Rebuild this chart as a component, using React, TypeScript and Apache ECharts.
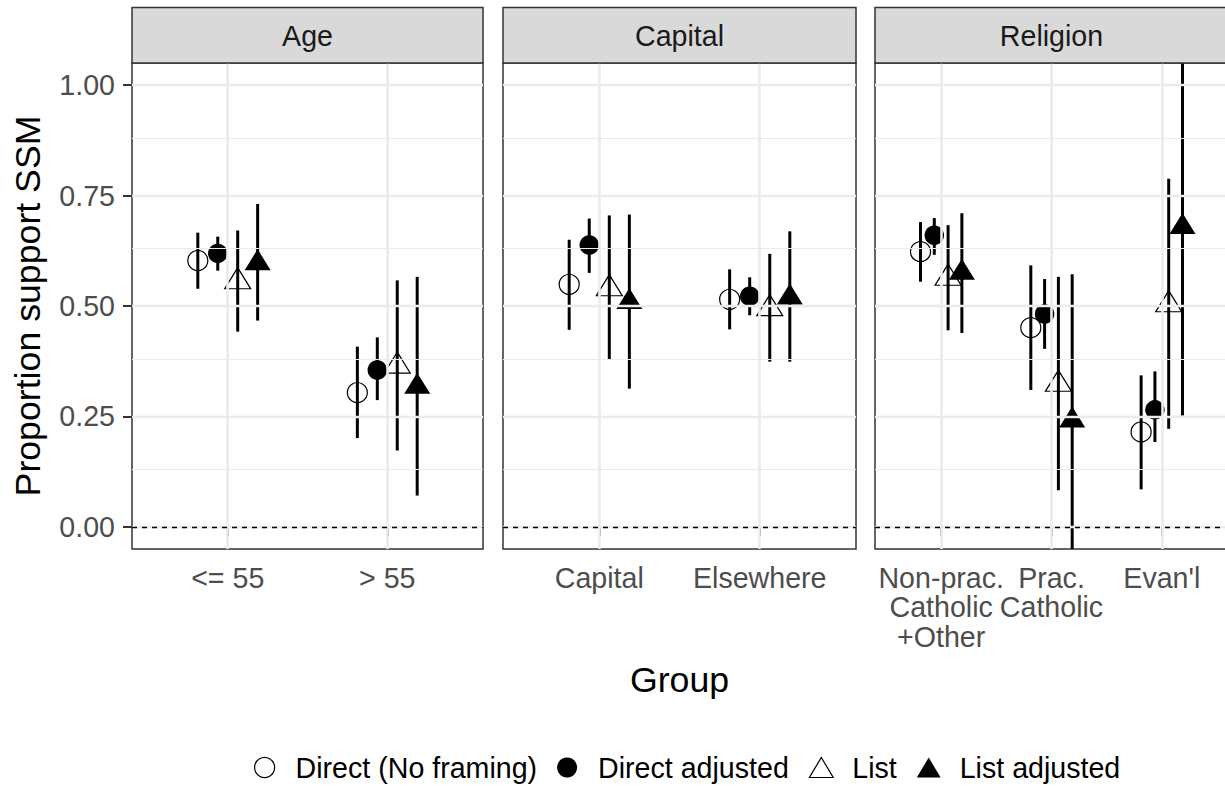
import React, { useEffect, useRef } from 'react';
import * as echarts from 'echarts';

// ---------- data ----------
const facetNames = ['Age', 'Capital', 'Religion'];
const methodNames = ['Direct (No framing)', 'Direct adjusted', 'List', 'List adjusted'];

const ageGroups = ['<= 55', '> 55'];
const capitalGroups = ['Capital', 'Elsewhere'];
const religionGroups = ['Non-prac.\nCatholic\n+Other', 'Prac.\nCatholic', "Evan'l"];

// rows follow methodNames, columns follow the facet's groups
const ageEstimate = [[0.603, 0.304], [0.619, 0.355], [0.555, 0.364], [0.597, 0.317]];
const ageLower = [[0.539, 0.201], [0.580, 0.287], [0.442, 0.173], [0.467, 0.071]];
const ageUpper = [[0.666, 0.408], [0.657, 0.429], [0.671, 0.558], [0.731, 0.566]];

const capitalEstimate = [[0.549, 0.515], [0.638, 0.522], [0.539, 0.494], [0.509, 0.519]];
const capitalLower = [[0.446, 0.447], [0.575, 0.479], [0.379, 0.374], [0.313, 0.374]];
const capitalUpper = [[0.650, 0.583], [0.698, 0.565], [0.705, 0.618], [0.707, 0.669]];

const religionEstimate = [[0.623, 0.451, 0.215], [0.660, 0.482, 0.265], [0.563, 0.323, 0.503], [0.575, 0.241, 0.679]];
const religionLower = [[0.555, 0.310, 0.085], [0.616, 0.403, 0.192], [0.445, 0.083, 0.222], [0.439, -0.090, 0.252]];
const religionUpper = [[0.690, 0.592, 0.343], [0.699, 0.561, 0.352], [0.683, 0.566, 0.788], [0.710, 0.572, 1.106]];

const yTicks = [0, 0.25, 0.5, 0.75, 1];
const yMinor = [0.125, 0.375, 0.625, 0.875];
const yMin = -0.05;
const yMax = 1.05;

// ---------- layout / style ----------
const FONT = '"Liberation Sans", Arial, Helvetica, sans-serif';
const panelLeft = [132, 503, 875];
const panelWidth = [351, 353, 353];
const panelTop = 63;
const panelHeight = 486;
const stripTop = 7.5;
const dodgeWidth = 0.5;

const TRI = 'path://M12.5,0 L25,21 L0,21 Z';

const facets = [
  { groups: ageGroups, est: ageEstimate, lo: ageLower, hi: ageUpper },
  { groups: capitalGroups, est: capitalEstimate, lo: capitalLower, hi: capitalUpper },
  { groups: religionGroups, est: religionEstimate, lo: religionLower, hi: religionUpper },
];

const methodStyle = [
  { symbol: 'circle', size: 20, offset: [0, 0], itemStyle: { color: 'rgba(0,0,0,0)', borderColor: '#000', borderWidth: 1.2, opacity: 1 } },
  { symbol: 'circle', size: 19.5, offset: [0, 0], itemStyle: { color: '#000', borderWidth: 0, opacity: 1 } },
  { symbol: TRI, size: [26, 21], offset: [0, -3.5], itemStyle: { color: 'rgba(0,0,0,0)', borderColor: '#000', borderWidth: 1.2, opacity: 1 } },
  { symbol: TRI, size: [26, 21], offset: [0, -3.5], itemStyle: { color: '#000', borderWidth: 0, opacity: 1 } },
];

const dodge = (m: number) => -dodgeWidth / 2 + dodgeWidth / 8 + (m * dodgeWidth) / 4;

function makeXAxis(f: number, groups: string[], labelValues: number[], withTicks: boolean, withName: boolean) {
  const n = groups.length;
  const cats = groups.map((_, i) => i + 1);
  return {
    type: 'value', gridIndex: f, min: 0.4, max: n + 0.6, position: 'bottom', offset: 0,
    axisLine: { show: false },
    axisTick: { show: withTicks, customValues: cats, length: 9, lineStyle: { color: '#333333', width: 2 } },
    axisLabel: {
      show: labelValues.length > 0,
      customValues: labelValues.length > 0 ? labelValues : cats,
      formatter: (v: number) => groups[Math.round(v) - 1] ?? '',
      fontSize: 28.6, color: '#4D4D4D', margin: 14, lineHeight: 29.5, fontFamily: FONT, align: 'center',
      hideOverlap: false, showMinLabel: true, showMaxLabel: true,
    },
    splitLine: { show: false },
    name: withName ? 'Group' : '',
    nameLocation: 'middle', nameGap: 113,
    nameTextStyle: { fontSize: 35.7, color: '#000', fontFamily: FONT },
  };
}

function buildOption() {
  const grids: any[] = [];
  const xAxes: any[] = [];
  const extraXAxes: any[] = [];
  const yAxes: any[] = [];
  const series: any[] = [];
  const graphics: any[] = [];

  facets.forEach((fc, f) => {
    const cats = fc.groups.map((_, i) => i + 1);
    grids.push({
      left: panelLeft[f], top: panelTop, width: panelWidth[f], height: panelHeight,
      show: true, backgroundColor: '#ffffff', borderColor: '#333333', borderWidth: 1.5,
      containLabel: false, outerBoundsMode: 'none',
    });
    // labels of alternating categories go on two overlapping axes so that none gets hidden
    const oddCats = cats.filter((c) => c % 2 === 1);
    const evenCats = cats.filter((c) => c % 2 === 0);
    xAxes.push(makeXAxis(f, fc.groups, oddCats, true, f === 1));
    extraXAxes.push(makeXAxis(f, fc.groups, evenCats, false, false));

    yAxes.push({
      type: 'value', gridIndex: f, min: yMin, max: yMax, show: f === 0,
      axisLine: { show: false },
      axisTick: { show: true, customValues: yTicks, length: 9, lineStyle: { color: '#333333', width: 2 } },
      axisLabel: {
        customValues: yTicks,
        formatter: (v: number) => v.toFixed(2),
        fontSize: 28.6, color: '#4D4D4D', margin: 17, fontFamily: FONT, hideOverlap: false,
      },
      splitLine: { show: false },
      name: f === 0 ? 'Proportion support SSM' : '',
      nameLocation: 'middle', nameGap: 86,
      nameTextStyle: { fontSize: 35.7, color: '#000', fontFamily: FONT },
    });

    // grid lines
    const gl: any[] = [];
    yMinor.forEach((v) => gl.push({ yAxis: v, lineStyle: { color: '#EBEBEB', width: 1.2, type: 'solid' } }));
    yTicks.forEach((v) => gl.push({ yAxis: v, lineStyle: { color: '#EBEBEB', width: 2.4, type: 'solid' } }));
    cats.forEach((v) => gl.push({ xAxis: v, lineStyle: { color: '#EBEBEB', width: 2.6, type: 'solid' } }));
    series.push({
      type: 'scatter', name: '_grid' + f, xAxisIndex: f, yAxisIndex: f, data: [], z: 1, silent: true,
      markLine: { silent: true, symbol: ['none', 'none'], label: { show: false }, animation: false, data: gl },
    });
    // zero reference line
    series.push({
      type: 'scatter', name: '_zero' + f, xAxisIndex: f, yAxisIndex: f, data: [], z: 2, silent: true,
      markLine: {
        silent: true, symbol: ['none', 'none'], label: { show: false }, animation: false,
        data: [{ yAxis: 0, lineStyle: { color: '#000', width: 1.3, type: [5, 5] } }],
      },
    });
    // error bars
    const bars: number[][] = [];
    methodNames.forEach((_, m) => {
      fc.groups.forEach((_, g) => {
        bars.push([g + 1 + dodge(m), fc.lo[m][g], fc.hi[m][g]]);
      });
    });
    series.push({
      type: 'custom', name: '_bars' + f, xAxisIndex: f, yAxisIndex: f, z: 3, silent: true, clip: true,
      encode: { x: 0, y: [1, 2] },
      data: bars,
      renderItem: (params: any, api: any) => {
        const x = api.value(0);
        const p1 = api.coord([x, api.value(1)]);
        const p2 = api.coord([x, api.value(2)]);
        const cs = params.coordSys;
        const top = cs.y;
        const bottom = cs.y + cs.height;
        const clamp = (y: number) => Math.min(Math.max(y, top), bottom);
        return {
          type: 'line',
          shape: { x1: p1[0], y1: clamp(p1[1]), x2: p2[0], y2: clamp(p2[1]) },
          style: { stroke: '#000', lineWidth: 3 },
        };
      },
    });
    // points
    methodNames.forEach((name, m) => {
      const st = methodStyle[m];
      series.push({
        type: 'scatter', name, xAxisIndex: f, yAxisIndex: f, z: 4,
        symbol: st.symbol, symbolSize: st.size, symbolOffset: st.offset,
        itemStyle: st.itemStyle,
        data: fc.groups.map((_, g) => [g + 1 + dodge(m), fc.est[m][g]]),
      });
    });

    // strip
    graphics.push({
      type: 'rect', z: 10,
      shape: { x: panelLeft[f], y: stripTop, width: panelWidth[f], height: panelTop - stripTop },
      style: { fill: '#D9D9D9', stroke: '#333333', lineWidth: 1.5 },
    });
    graphics.push({
      type: 'text', z: 11,
      x: panelLeft[f] + panelWidth[f] / 2, y: (stripTop + panelTop) / 2 + 0.5,
      style: {
        text: facetNames[f], fill: '#1A1A1A', fontSize: 28.6, fontFamily: FONT,
        align: 'center', verticalAlign: 'middle',
      },
    });
  });

  return {
    animation: false,
    backgroundColor: '#ffffff',
    textStyle: { fontFamily: FONT },
    grid: grids,
    xAxis: [...xAxes, ...extraXAxes],
    yAxis: yAxes,
    series,
    graphic: graphics,
    legend: {
      left: 254, top: 753, padding: 0, orient: 'horizontal',
      itemWidth: 52, itemHeight: 20, itemGap: 20,
      selectedMode: false,
      textStyle: { fontSize: 28.6, color: '#000', fontFamily: FONT },
      data: methodNames.map((name, m) => ({
        name,
        icon: methodStyle[m].symbol,
        itemStyle: methodStyle[m].itemStyle,
      })),
    },
  };
}

export default function App() {
  const ref = useRef<HTMLDivElement>(null);
  useEffect(() => {
    if (!ref.current) return;
    const chart = echarts.init(ref.current, null, { renderer: 'svg' });
    chart.setOption(buildOption() as any);
    return () => chart.dispose();
  }, []);
  return (
    <div
      ref={ref}
      style={{ position: 'fixed', left: 0, top: 0, width: 1225, height: 786, background: '#fff' }}
    />
  );
}
